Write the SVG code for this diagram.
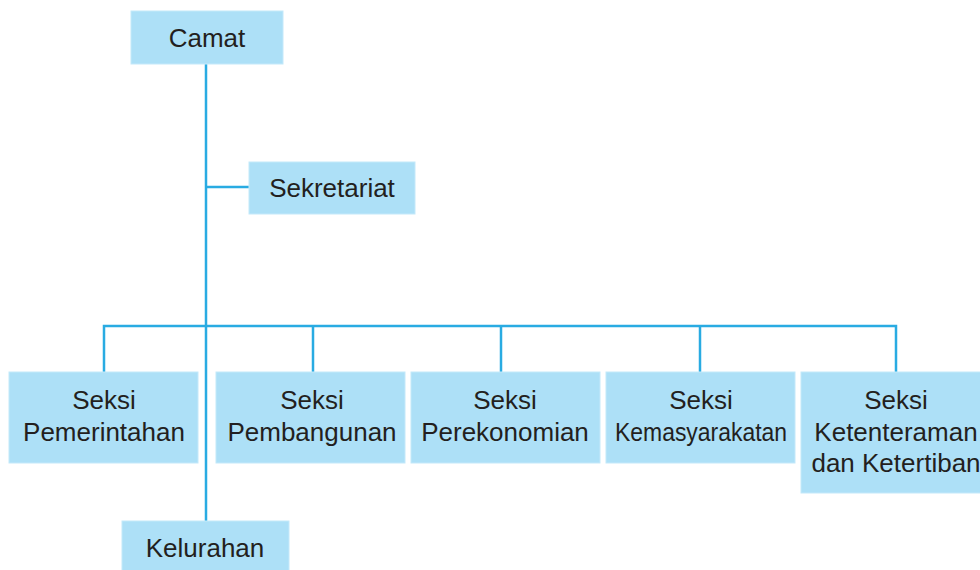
<svg xmlns="http://www.w3.org/2000/svg" width="980" height="570" viewBox="0 0 980 570">
<style>
.box{fill:#ADE0F7;stroke:#C4E9FA;stroke-width:1}
.t{font-family:"Liberation Sans",Arial,Helvetica,sans-serif;font-size:26px;fill:#231F20;text-anchor:middle}
.ln{stroke:#29ABE2;stroke-width:2.5;fill:none}
</style>
<rect width="980" height="570" fill="#FFFFFF"/>
<g id="connectors">
<line class="ln" x1="206" y1="64" x2="206" y2="521"/>
<line class="ln" x1="206" y1="187" x2="249" y2="187"/>
<polyline class="ln" points="104,372 104,326 896,326 896,372"/>
<line class="ln" x1="313" y1="326" x2="313" y2="372"/>
<line class="ln" x1="501" y1="326" x2="501" y2="372"/>
<line class="ln" x1="700" y1="326" x2="700" y2="372"/>
</g>
<g id="camat">
<rect class="box" x="131" y="11" width="152" height="53"/>
<text class="t" x="207" y="47">Camat</text>
</g>
<g id="sekretariat">
<rect class="box" x="249" y="162" width="166" height="52"/>
<text class="t" x="332" y="197">Sekretariat</text>
</g>
<g id="pemerintahan">
<rect class="box" x="9" y="372" width="189" height="91"/>
<text class="t" x="104" y="409">Seksi</text>
<text class="t" x="104" y="441">Pemerintahan</text>
</g>
<g id="pembangunan">
<rect class="box" x="216" y="372" width="189" height="91"/>
<text class="t" x="312" y="409">Seksi</text>
<text class="t" x="312" y="441">Pembangunan</text>
</g>
<g id="perekonomian">
<rect class="box" x="411" y="372" width="189" height="91"/>
<text class="t" x="505" y="409">Seksi</text>
<text class="t" x="505" y="441">Perekonomian</text>
</g>
<g id="kemasyarakatan">
<rect class="box" x="606" y="372" width="189" height="91"/>
<text class="t" x="701" y="409">Seksi</text>
<text class="t" x="701" y="441" textLength="172" lengthAdjust="spacingAndGlyphs">Kemasyarakatan</text>
</g>
<g id="ketenteraman">
<rect class="box" x="801" y="372" width="185" height="121"/>
<text class="t" x="896" y="409">Seksi</text>
<text class="t" x="896" y="441">Ketenteraman</text>
<text class="t" x="896" y="472">dan Ketertiban</text>
</g>
<g id="kelurahan">
<rect class="box" x="122" y="521" width="167" height="52"/>
<text class="t" x="205" y="557">Kelurahan</text>
</g>
</svg>
